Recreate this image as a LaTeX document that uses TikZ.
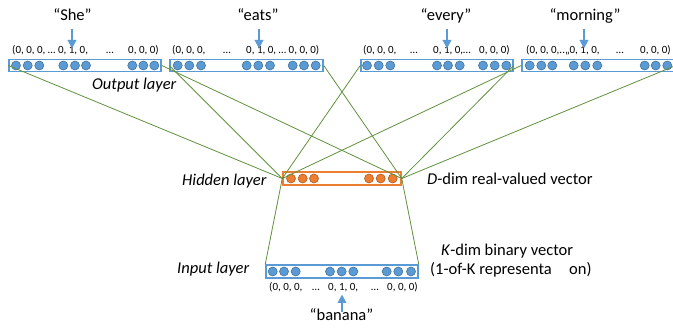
\documentclass[tikz,border=0pt]{standalone}
\usepackage{fontspec}
\setmainfont{Carlito}
\usetikzlibrary{arrows.meta}
\definecolor{cblue}{HTML}{5B9BD5}
\definecolor{cbluedk}{HTML}{41719C}
\definecolor{corange}{HTML}{ED7D31}
\definecolor{corangedk}{HTML}{AE5A21}
\definecolor{cgreen}{RGB}{96,145,62}
\tikzset{
  obox/.style={draw=cblue, line width=1.5pt, minimum height=12pt, inner sep=0pt},
  hbox/.style={draw=corange, line width=1.5pt, minimum height=13pt, inner sep=0pt},
  bdot/.style={circle, fill=cblue, draw=cbluedk, line width=0.6pt, minimum size=9pt, inner sep=0pt},
  odot/.style={circle, fill=corange, draw=corangedk, line width=0.6pt, minimum size=9pt, inner sep=0pt},
  lab/.style={font=\fontsize{11}{13}\selectfont, inner sep=0pt, anchor=base west},
  labc/.style={font=\fontsize{11}{13}\selectfont, inner sep=0pt, anchor=base},
  big/.style={font=\fontsize{16.5}{19}\selectfont, inner sep=0pt, anchor=base west},
  word/.style={font=\fontsize{16.5}{19}\selectfont, inner sep=0pt, anchor=base},
  warrow/.style={draw=cblue, line width=2pt, -{Triangle[width=8.5pt,length=8.5pt]}},
  conn/.style={draw=cgreen, line width=0.8pt},
}
\begin{document}
\begin{tikzpicture}[x=1pt,y=-1pt]
\useasboundingbox (0,0) rectangle (673,331);

% output boxes
\node[obox, minimum width=152pt] (o1) at (85,65.5) {};
\node[obox, minimum width=153pt] (o2) at (246.5,65.5) {};
\node[obox, minimum width=152pt] (o3) at (437,65.5) {};
\node[obox, minimum width=153pt] (o4) at (598.5,65.5) {};
\foreach \x [count=\i] in {16,27.7,39.3,63.3,75,86,132.3,143.3,154.3}
  \node[bdot] (d1-\i) at (\x,65.5) {};
\foreach \x [count=\i] in {177.7,189.3,201,246.7,258.3,270,292.7,304,315.7}
  \node[bdot] (d2-\i) at (\x,65.5) {};
\foreach \x [count=\i] in {367,378.7,390.3,437,448,459.7,483,494.7,506.3}
  \node[bdot] (d3-\i) at (\x,65.5) {};
\foreach \x [count=\i] in {529.7,541.3,552.3,573.7,585.3,597.3,644.7,655.7,667.3}
  \node[bdot] (d4-\i) at (\x,65.5) {};

% hidden box
\node[hbox, minimum width=118pt] (h) at (342,178.5) {};
\foreach \x [count=\i] in {291,302.7,314,369,380.7,392.7}
  \node[odot] (dh-\i) at (\x,178.5) {};

% input box
\node[obox, minimum width=152pt, minimum height=13pt] (in) at (342,271.5) {};
\foreach \x [count=\i] in {272.7,284,295.7,330,341.7,353.3,386.7,398.3,411}
  \node[bdot] (di-\i) at (\x,271.5) {};

% connectors
\draw[conn] (o1.west) -- (h.west);
\draw[conn] (o1.east) -- (h.east);
\draw[conn] (o2.west) -- (h.west);
\draw[conn] (o2.east) -- (h.east);
\draw[conn] (o3.west) -- (h.west);
\draw[conn] (o3.east) -- (h.east);
\draw[conn] (o4.west) -- (h.west);
\draw[conn] (o4.east) -- (h.east);
\draw[conn] (h.west) -- (in.north west);
\draw[conn] (h.east) -- (in.north east);

% vector labels
\node[lab] (t1a) at (12,54) {(0, 0, 0, … 0, 1, 0,};
\node[labc] (t1b) at (110,54) {…};
\node[lab] (t1c) at (128,54) {0, 0, 0)};
\node[lab] (t2a) at (172,54) {(0, 0, 0,};
\node[labc] (t2b) at (227,54) {…};
\node[lab] (t2c) at (246,54) {0, 1, 0, … 0, 0, 0)};
\node[lab] (t3a) at (363,54) {(0, 0, 0,};
\node[labc] (t3b) at (414,54) {…};
\node[lab] (t3c) at (433,54) {0, 1, 0,…};
\node[lab] (t3d) at (479,54) {0, 0, 0)};
\node[lab] (t4a) at (526,54) {(0, 0, 0,..,,0, 1, 0,};
\node[labc] (t4b) at (620,54) {…};
\node[lab] (t4c) at (640,54) {0, 0, 0)};
\node[lab] (tia) at (269,290.5) {(0, 0, 0,};
\node[labc] (tib) at (316,290.5) {…};
\node[lab] (tic) at (328,290.5) {0, 1, 0,};
\node[labc] (tid) at (375,290.5) {…};
\node[lab] (tie) at (387,290.5) {0, 0, 0)};

% words and arrows
\node[word] (w1) at (72.5,21) {“She”};
\node[word] (w2) at (258,21) {“eats”};
\node[word] (w3) at (446,21) {“every”};
\node[word] (w4) at (585,21) {“morning”};
\node[word] (w5) at (341.5,321) {“banana”};
\coordinate (a1s) at (72,29);  \coordinate (a1e) at (72,48.5);
\coordinate (a2s) at (259,29); \coordinate (a2e) at (259,48.5);
\coordinate (a3s) at (447,29); \coordinate (a3e) at (447,48.5);
\coordinate (a4s) at (584,29); \coordinate (a4e) at (584,48.5);
\coordinate (a5s) at (342,312); \coordinate (a5e) at (342,294.5);
\draw[warrow] (a1s) -- (a1e);
\draw[warrow] (a2s) -- (a2e);
\draw[warrow] (a3s) -- (a3e);
\draw[warrow] (a4s) -- (a4e);
\draw[warrow] (a5s) -- (a5e);

% layer labels
\node[big] (lo) at (92,90) {\textit{Output layer}};
\node[big] (lh) at (182,186) {\textit{Hidden layer}};
\node[big] (ld) at (427,185) {\textit{D}-dim real-valued vector};
\node[big] (lk) at (441,255.5) {\textit{K}-dim binary vector};
\node[big] (lr) at (430,274.5) {(1-of-K representa\hspace{1.05em}on)};
\node[big] (li) at (177,274) {\textit{Input layer}};
\end{tikzpicture}
\end{document}
